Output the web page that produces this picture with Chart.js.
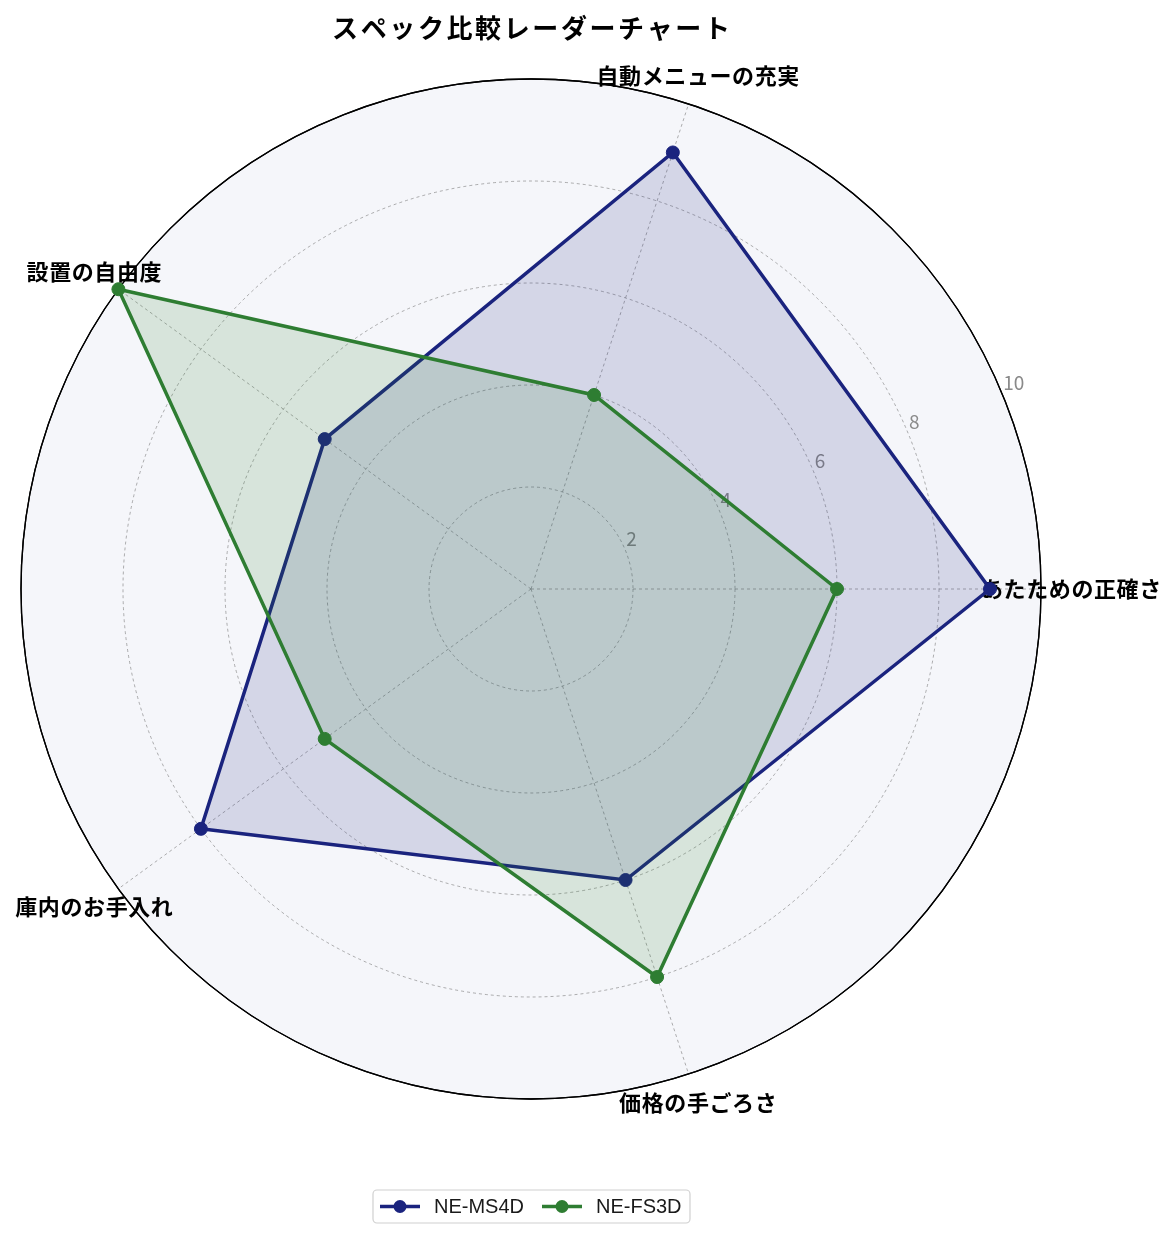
<!DOCTYPE html>
<html>
<head>
<meta charset="utf-8">
<script src="https://cdn.jsdelivr.net/npm/chart.js@4"></script>
<style>
html,body{margin:0;padding:0;background:#ffffff;}
#wrap{position:relative;width:1176px;height:1239px;}
</style>
</head>
<body>
<div id="wrap"><canvas id="c"></canvas></div>
<script>
// ---- data ----
const chartTitle = "スペック比較レーダーチャート";
const categories = ["あたための正確さ", "自動メニューの充実", "設置の自由度", "庫内のお手入れ", "価格の手ごろさ"];
const seriesNames = ["NE-MS4D", "NE-FS3D"];
const ms4dValues = [9, 9, 5, 8, 6];
const fs3dValues = [6, 4, 10, 5, 8];
const tickValues = [2, 4, 6, 8, 10];

// matplotlib goes counter-clockwise; Chart.js goes clockwise -> reorder
const displayOrder = [0, 4, 3, 2, 1];
const labelsOrdered = displayOrder.map(i => categories[i]);
const ms4dOrdered = displayOrder.map(i => ms4dValues[i]);
const fs3dOrdered = displayOrder.map(i => fs3dValues[i]);

const NAVY = '#1a237e';
const GREEN = '#2e7d32';
const FONT = '"Noto Sans CJK JP", "Noto Sans", sans-serif';

function spacedText(ctx, text, cx, cy, spacing) {
  ctx.letterSpacing = spacing + 'px';
  const w = ctx.measureText(text).width - spacing;
  ctx.textAlign = 'left';
  ctx.fillText(text, cx - w / 2, cy);
  ctx.letterSpacing = '0px';
}

const decorPlugin = {
  id: 'decor',
  beforeDatasetsDraw(chart) {
    const ctx = chart.ctx;
    const r = chart.scales.r;
    ctx.save();
    // tick labels at 22.5 degrees
    const ang = 22.5 * Math.PI / 180;
    ctx.font = '19px ' + FONT;
    ctx.fillStyle = '#8a8a8a';
    ctx.textBaseline = 'middle';
    ctx.textAlign = 'left';
    tickValues.forEach(v => {
      const d = r.getDistanceFromCenterForValue(v);
      const x = r.xCenter + d * Math.cos(ang);
      const y = r.yCenter - d * Math.sin(ang);
      ctx.fillText(String(v), x + 1, y - 11);
    });
    // category labels
    ctx.font = 'bold 22px ' + FONT;
    ctx.fillStyle = '#000000';
    ctx.textBaseline = 'middle';
    labelsOrdered.forEach((lab, i) => {
      const p = r.getPointPositionForValue(i, 10.59);
      spacedText(ctx, lab, p.x, p.y, 0.6);
    });
    // outer circle on top of labels
    ctx.beginPath();
    ctx.arc(r.xCenter, r.yCenter, r.getDistanceFromCenterForValue(10), 0, Math.PI * 2);
    ctx.strokeStyle = '#000000';
    ctx.lineWidth = 1.3;
    ctx.stroke();
    ctx.restore();
  },
  afterDraw(chart) {
    const ctx = chart.ctx;
    const r = chart.scales.r;
    ctx.save();
    // title
    ctx.font = 'bold 26px ' + FONT;
    ctx.fillStyle = '#000000';
    ctx.textBaseline = 'middle';
    spacedText(ctx, chartTitle, r.xCenter, 28, 2.6);
    // legend
    const bx = 373, by = 1190, bw = 317, bh = 33;
    ctx.beginPath();
    ctx.roundRect(bx, by, bw, bh, 4);
    ctx.fillStyle = 'rgba(255,255,255,0.85)';
    ctx.fill();
    ctx.strokeStyle = '#d0d0d0';
    ctx.lineWidth = 1.2;
    ctx.stroke();
    const ly = by + bh / 2;
    const items = chart.data.datasets.map(ds => ({ text: ds.label, color: ds.borderColor }));
    const starts = [380, 542];
    ctx.font = '20px "Liberation Sans", Arial, sans-serif';
    ctx.textBaseline = 'middle';
    ctx.textAlign = 'left';
    items.forEach((it, k) => {
      const x0 = starts[k];
      ctx.beginPath();
      ctx.moveTo(x0, ly);
      ctx.lineTo(x0 + 40, ly);
      ctx.strokeStyle = it.color;
      ctx.lineWidth = 3.5;
      ctx.stroke();
      ctx.beginPath();
      ctx.arc(x0 + 20, ly, 6.5, 0, Math.PI * 2);
      ctx.fillStyle = it.color;
      ctx.fill();
      ctx.fillStyle = '#1a1a1a';
      ctx.fillText(it.text, x0 + 54, ly + 1);
    });
    ctx.restore();
  }
};

new Chart(document.getElementById('c'), {
  type: 'radar',
  data: {
    labels: labelsOrdered,
    datasets: [
      {
        label: seriesNames[0],
        data: ms4dOrdered,
        borderColor: NAVY,
        backgroundColor: 'rgba(26,35,126,0.15)',
        pointBackgroundColor: NAVY,
        pointBorderColor: NAVY,
        pointRadius: 6.5,
        pointBorderWidth: 1,
        borderWidth: 3.5,
        fill: true,
        order: 1
      },
      {
        label: seriesNames[1],
        data: fs3dOrdered,
        borderColor: GREEN,
        backgroundColor: 'rgba(46,125,50,0.15)',
        pointBackgroundColor: GREEN,
        pointBorderColor: GREEN,
        pointRadius: 6.5,
        pointBorderWidth: 1,
        borderWidth: 3.5,
        fill: true,
        order: 0
      }
    ]
  },
  options: {
    responsive: true,
    maintainAspectRatio: false,
    animation: false,
    layout: { padding: { left: 21, right: 135, top: 79, bottom: 140 } },
    plugins: {
      legend: { display: false },
      title: { display: false },
      tooltip: { enabled: false }
    },
    elements: { line: { tension: 0 } },
    scales: {
      r: {
        min: 0,
        max: 10,
        startAngle: 90,
        backgroundColor: '#f5f6fa',
        ticks: { display: false, stepSize: 2 },
        pointLabels: { display: false },
        grid: {
          circular: true,
          color: ctx => (ctx.tick && ctx.tick.value === 10) ? '#000000' : 'rgba(120,120,120,0.75)',
          lineWidth: ctx => (ctx.tick && ctx.tick.value === 10) ? 1.3 : 0.8
        },
        border: {
          dash: ctx => (ctx.tick && ctx.tick.value === 10) ? [] : [3, 3]
        },
        angleLines: {
          color: 'rgba(120,120,120,0.75)',
          lineWidth: 0.8,
          borderDash: [3, 3]
        }
      }
    }
  },
  plugins: [decorPlugin]
});
</script>
</body>
</html>
